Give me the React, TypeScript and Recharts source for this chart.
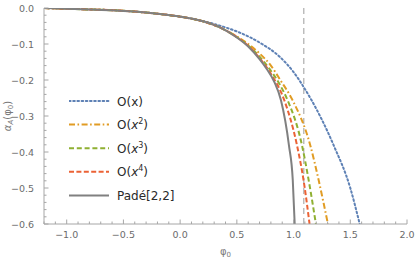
import React from 'react';
import { LineChart, Line, XAxis, YAxis, ReferenceLine, Legend } from 'recharts';

// shared low-field part, every curve lies on it
const baseX = [-1.2, -1.0, -0.8, -0.6, -0.4, -0.2, 0.0, 0.2, 0.35];
const baseY = [0.0, -0.002, -0.004, -0.006, -0.01, -0.016, -0.024, -0.037, -0.054];

const o1X = [0.2, 0.35, 0.53, 0.706, 0.883, 1.0, 1.094, 1.153, 1.353, 1.5, 1.583];
const o1Y = [-0.036, -0.049, -0.069, -0.097, -0.137, -0.178, -0.222, -0.253, -0.381, -0.5, -0.6];

const o2X = [0.5, 0.6, 0.706, 0.8, 0.883, 0.991, 1.147, 1.221, 1.303];
const o2Y = [-0.079, -0.1, -0.128, -0.16, -0.2, -0.256, -0.381, -0.478, -0.6];

const o3X = [0.5, 0.6, 0.7, 0.79, 0.883, 0.947, 1.074, 1.133, 1.197];
const o3Y = [-0.081, -0.104, -0.135, -0.17, -0.215, -0.256, -0.381, -0.478, -0.6];

const o4X = [0.5, 0.6, 0.7, 0.8, 0.918, 1.03, 1.088, 1.141];
const o4Y = [-0.081, -0.105, -0.139, -0.183, -0.256, -0.381, -0.478, -0.6];

const padeX = [0.5, 0.6, 0.7, 0.765, 0.83, 0.889, 0.959, 0.993, 1.01];
const padeY = [-0.082, -0.107, -0.142, -0.17, -0.205, -0.256, -0.381, -0.478, -0.6];

const markerX = 1.09;

const xTicks = [
  -1.2, -1.1, -1.0, -0.9, -0.8, -0.7, -0.6, -0.5, -0.4, -0.3, -0.2, -0.1, 0.0, 0.1, 0.2, 0.3, 0.4,
  0.5, 0.6, 0.7, 0.8, 0.9, 1.0, 1.1, 1.2, 1.3, 1.4, 1.5, 1.6, 1.7, 1.8, 1.9, 2.0,
];
const xMajor = [-1.0, -0.5, 0.0, 0.5, 1.0, 1.5, 2.0];
const yTicks = [
  0.0, -0.02, -0.04, -0.06, -0.08, -0.1, -0.12, -0.14, -0.16, -0.18, -0.2, -0.22, -0.24, -0.26,
  -0.28, -0.3, -0.32, -0.34, -0.36, -0.38, -0.4, -0.42, -0.44, -0.46, -0.48, -0.5, -0.52, -0.54,
  -0.56, -0.58, -0.6,
];
const yMajor = [0.0, -0.1, -0.2, -0.3, -0.4, -0.5, -0.6];

const frame = '#a6a6a6';
const tickText = '#6b6b6b';
const font = 'DejaVu Sans, sans-serif';

const pts = (xs: number[], ys: number[]) => xs.map((x, i) => ({ x, y: ys[i] }));
const withBase = (xs: number[], ys: number[]) => {
  const first = xs[0];
  const pre = pts(baseX, baseY).filter((p) => p.x < first - 1e-6);
  return [...pre, ...pts(xs, ys)];
};

const series = [
  { name: 'o1', data: withBase(o1X, o1Y), color: '#5e81b5', dash: '1.6 2.6', cap: 'round' },
  { name: 'o2', data: withBase(o2X, o2Y), color: '#e19c24', dash: '6 2.5 1.6 2.5', cap: 'butt' },
  { name: 'o3', data: withBase(o3X, o3Y), color: '#8fb032', dash: '5 2.8', cap: 'butt' },
  { name: 'o4', data: withBase(o4X, o4Y), color: '#eb6235', dash: '5 2.4', cap: 'butt' },
  { name: 'pade', data: withBase(padeX, padeY), color: '#808080', dash: undefined, cap: 'butt' },
];

const isMajor = (list: number[], v: number) => list.some((m) => Math.abs(m - v) < 1e-6);
const fmt = (v: number) => (Math.abs(v) < 1e-9 ? '0.0' : v.toFixed(1).replace('-', '\u2212'));

const BottomTick = (p: any) => {
  const major = isMajor(xMajor, p.payload.value);
  return (
    <g>
      <line x1={p.x} y1={p.y} x2={p.x} y2={p.y - (major ? 4.5 : 2.5)} stroke={frame} />
      {major && (
        <text x={p.x} y={p.y + 14} textAnchor="middle" fontSize={9.5} fill={tickText} fontFamily={font}>
          {fmt(p.payload.value)}
        </text>
      )}
    </g>
  );
};

const TopTick = (p: any) => {
  const major = isMajor(xMajor, p.payload.value);
  return <line x1={p.x} y1={p.y} x2={p.x} y2={p.y + (major ? 4.5 : 2.5)} stroke={frame} />;
};

const LeftTick = (p: any) => {
  const major = isMajor(yMajor, p.payload.value);
  return (
    <g>
      <line x1={p.x} y1={p.y} x2={p.x + (major ? 4.5 : 2.5)} y2={p.y} stroke={frame} />
      {major && (
        <text x={p.x - 10} y={p.y + 3.5} textAnchor="end" fontSize={9.5} fill={tickText} fontFamily={font}>
          {fmt(p.payload.value)}
        </text>
      )}
    </g>
  );
};

const RightTick = (p: any) => {
  const major = isMajor(yMajor, p.payload.value);
  return <line x1={p.x} y1={p.y} x2={p.x - (major ? 4.5 : 2.5)} y2={p.y} stroke={frame} />;
};

const YLabel = (p: any) => {
  const { x, y, height } = p.viewBox;
  const cx = x + 11;
  const cy = y + height / 2;
  return (
    <text x={cx} y={cy} transform={`rotate(-90 ${cx} ${cy})`} textAnchor="middle" fontSize={10} fill="#7a7a7a" fontFamily={font}>
      <tspan fontStyle="italic">α</tspan>
      <tspan fontStyle="italic" fontSize={7} dy={2}>A</tspan>
      <tspan dy={-2}>(φ</tspan>
      <tspan fontSize={7} dy={2}>0</tspan>
      <tspan dy={-2}>)</tspan>
    </text>
  );
};

const XLabel = (p: any) => {
  const { x, y, width } = p.viewBox;
  return (
    <text x={x + width / 2} y={y + 31} textAnchor="middle" fontSize={10} fill="#7a7a7a" fontFamily={font}>
      φ<tspan fontSize={7} dy={2}>0</tspan>
    </text>
  );
};

const legendLabels = [
  <>O(x)</>,
  <>O(<tspan fontStyle="italic">x</tspan><tspan fontSize={8} dy={-5}>2</tspan><tspan dy={5}>)</tspan></>,
  <>O(<tspan fontStyle="italic">x</tspan><tspan fontSize={8} dy={-5}>3</tspan><tspan dy={5}>)</tspan></>,
  <>O(<tspan fontStyle="italic">x</tspan><tspan fontSize={8} dy={-5}>4</tspan><tspan dy={5}>)</tspan></>,
  <>Padé[2,2]</>,
];

const LegendBox = () => (
  <svg width={130} height={120}>
    {series.map((s, i) => {
      const cy = 10 + i * 23.6;
      return (
        <g key={s.name}>
          <line x1={0} y1={cy} x2={40} y2={cy} stroke={s.color} strokeWidth={2} strokeDasharray={s.dash} strokeLinecap={s.cap as any} />
          <text x={48} y={cy + 4.5} fontSize={12} fill="#2a2a2a" fontFamily={font}>
            {legendLabels[i]}
          </text>
        </g>
      );
    })}
  </svg>
);

export default function App() {
  return (
    <div style={{ position: 'absolute', left: 0, top: 0, background: '#fff' }}>
      <LineChart width={415} height={263} margin={{ top: 8, right: 8, bottom: 0, left: 0 }}>
        <XAxis
          xAxisId="b"
          type="number"
          dataKey="x"
          domain={[-1.2, 2]}
          allowDataOverflow
          ticks={xTicks}
          interval={0}
          tickSize={0}
          tickMargin={0}
          tickLine={false}
          axisLine={{ stroke: frame }}
          tick={(p: any) => <BottomTick {...p} />}
          height={39}
          label={<XLabel />}
        />
        <XAxis
          xAxisId="t"
          orientation="top"
          type="number"
          dataKey="x"
          domain={[-1.2, 2]}
          allowDataOverflow
          ticks={xTicks}
          interval={0}
          tickSize={0}
          tickMargin={0}
          tickLine={false}
          axisLine={{ stroke: frame }}
          tick={(p: any) => <TopTick {...p} />}
          height={0}
        />
        <YAxis
          yAxisId="l"
          type="number"
          domain={[-0.6, 0]}
          allowDataOverflow
          ticks={yTicks}
          interval={0}
          tickSize={0}
          tickMargin={0}
          tickLine={false}
          axisLine={{ stroke: frame }}
          tick={(p: any) => <LeftTick {...p} />}
          width={44}
          label={<YLabel />}
        />
        <YAxis
          yAxisId="r"
          orientation="right"
          type="number"
          domain={[-0.6, 0]}
          allowDataOverflow
          ticks={yTicks}
          interval={0}
          tickSize={0}
          tickMargin={0}
          tickLine={false}
          axisLine={{ stroke: frame }}
          tick={(p: any) => <RightTick {...p} />}
          width={0}
        />
        <ReferenceLine xAxisId="b" yAxisId="l" x={markerX} stroke="#b3b3b3" strokeWidth={1.3} strokeDasharray="6 4" />
        {series.map((s) => (
          <Line
            key={s.name}
            xAxisId="b"
            yAxisId="l"
            data={s.data}
            dataKey="y"
            type="monotone"
            stroke={s.color}
            strokeWidth={2}
            strokeDasharray={s.dash}
            strokeLinecap={s.cap as any}
            dot={false}
            activeDot={false}
            isAnimationActive={false}
          />
        ))}
        <Legend
          layout="vertical"
          align="center"
          verticalAlign="middle"
          content={() => <LegendBox />}
          wrapperStyle={{ left: 69, top: 91, width: 130, height: 120 }}
        />
      </LineChart>
    </div>
  );
}
